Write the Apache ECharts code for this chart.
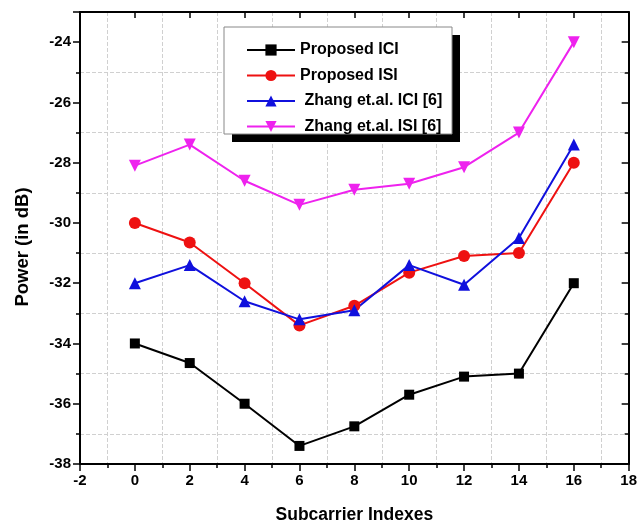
<!DOCTYPE html>
<html>
<head>
<meta charset="utf-8">
<script src="https://cdn.jsdelivr.net/npm/echarts@6/dist/echarts.min.js"></script>
<style>
  html, body { margin: 0; padding: 0; background: #fff; }
  #chart { width: 640px; height: 529px; }
</style>
</head>
<body>
<div id="chart"></div>
<script>
const subcarriers = [0, 2, 4, 6, 8, 10, 12, 14, 16];
const proposedIci = [-34, -34.65, -36, -37.4, -36.75, -35.7, -35.1, -35, -32];
const proposedIsi = [-30, -30.65, -32, -33.4, -32.75, -31.65, -31.1, -31, -28];
const zhangIci = [-32, -31.4, -32.6, -33.2, -32.9, -31.4, -32.05, -30.5, -27.4];
const zhangIsi = [-28.1, -27.4, -28.6, -29.4, -28.9, -28.7, -28.15, -27, -24];

const font = "Liberation Sans, Arial, sans-serif";

const pairs = ys => subcarriers.map((x, i) => [x, ys[i]]);

const makeSeries = (name, ys, color, symbol, size) => ({
  name: name,
  type: "line",
  data: pairs(ys),
  symbol: symbol,
  symbolSize: size,
  color: color,
  lineStyle: { width: 2, color: color },
  itemStyle: { color: color },
  xAxisIndex: 0,
  yAxisIndex: 0
});

const boldText = size => ({ fontFamily: font, fontWeight: "bold", fontSize: size, color: "#000" });

const chart = echarts.init(document.getElementById("chart"));

chart.setOption({
  animation: false,
  textStyle: { fontFamily: font },
  grid: { left: 80, right: 7, top: 12, bottom: 64 },
  // legend frame with a hard black drop shadow
  graphic: [
    { type: "rect", z: 10, shape: { x: 232, y: 35, width: 228, height: 107 }, style: { fill: "#000" } },
    { type: "rect", z: 11, shape: { x: 224, y: 27, width: 228, height: 107 }, style: { fill: "#fff", stroke: "#888", lineWidth: 1 } }
  ],
  legend: {
    orient: "vertical",
    left: 224,
    top: 27,
    z: 20,
    padding: [15, 10, 0, 22],
    itemGap: 9.5,
    itemWidth: 48,
    itemHeight: 14,
    textStyle: boldText(16)
  },
  xAxis: [
    {
      type: "value",
      min: -2,
      max: 18,
      interval: 2,
      name: "Subcarrier Indexes",
      nameLocation: "middle",
      nameGap: 42,
      nameTextStyle: boldText(17.5),
      axisLine: { onZero: false, lineStyle: { color: "#000", width: 2 } },
      axisTick: { length: 7, lineStyle: { color: "#000", width: 1.5 } },
      minorTick: { show: true, splitNumber: 2, length: 4, lineStyle: { color: "#000", width: 1.5 } },
      axisLabel: Object.assign(boldText(15), { margin: 9 }),
      splitLine: { show: false },
      minorSplitLine: { show: true, lineStyle: { color: "#d0d0d0", type: "dashed", width: 1 } }
    },
    {
      type: "value",
      position: "top",
      min: -2,
      max: 18,
      interval: 2,
      axisLine: { show: true, onZero: false, lineStyle: { color: "#000", width: 2 } },
      axisTick: { inside: true, length: 6, lineStyle: { color: "#000", width: 1.5 } },
      axisLabel: { show: false },
      splitLine: { show: false }
    }
  ],
  yAxis: [
    {
      type: "value",
      min: -38,
      max: -23,
      interval: 2,
      name: "Power (in dB)",
      nameLocation: "middle",
      nameGap: 48,
      nameTextStyle: Object.assign(boldText(18.5), { padding: [0, 18, 0, 0] }),
      axisLine: { show: true, onZero: false, lineStyle: { color: "#000", width: 2 } },
      axisTick: { length: 7, lineStyle: { color: "#000", width: 1.5 } },
      minorTick: { show: true, splitNumber: 2, length: 4, lineStyle: { color: "#000", width: 1.5 } },
      axisLabel: Object.assign(boldText(15), { margin: 9, showMaxLabel: false }),
      splitLine: { show: false },
      minorSplitLine: { show: true, lineStyle: { color: "#d0d0d0", type: "dashed", width: 1 } }
    },
    {
      type: "value",
      position: "right",
      min: -38,
      max: -23,
      interval: 2,
      axisLine: { show: true, onZero: false, lineStyle: { color: "#000", width: 2 } },
      axisTick: { inside: true, length: 7, lineStyle: { color: "#000", width: 1.5 } },
      minorTick: { show: true, splitNumber: 2, length: 4, lineStyle: { color: "#000", width: 1.5 } },
      axisLabel: { show: false },
      splitLine: { show: false }
    }
  ],
  series: [
    makeSeries("Proposed ICI", proposedIci, "#000000", "rect", 10),
    makeSeries("Proposed ISI", proposedIsi, "#ee1111", "circle", 12),
    makeSeries(" Zhang et.al. ICI [6]", zhangIci, "#1010dd", "triangle", 12),
    makeSeries(" Zhang et.al. ISI [6]", zhangIsi, "#ee22ee", "path://M0,0 L10,0 L5,9 Z", 12)
  ]
});
</script>
</body>
</html>
